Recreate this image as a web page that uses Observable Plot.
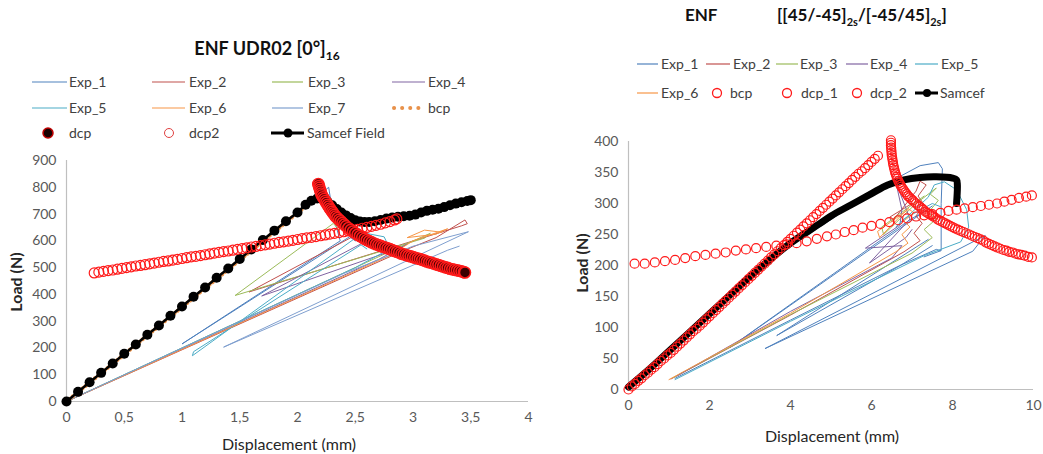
<!DOCTYPE html>
<html><head><meta charset="utf-8">
<script src="https://cdn.jsdelivr.net/npm/d3@7"></script>
<script src="https://cdn.jsdelivr.net/npm/@observablehq/plot@0.6"></script>
<style>
body{margin:0;background:#fff;}
#wrap{position:relative;width:1043px;height:454px;overflow:hidden;background:#fff;font-family:Lato,"Open Sans",sans-serif;}
#wrap svg{position:absolute;}
</style></head><body><div id="wrap"></div>
<script>
// ---------- tick labels ----------
const leftXTicks=[0,0.5,1,1.5,2,2.5,3,3.5,4];
const leftYTicks=[0,100,200,300,400,500,600,700,800,900];
const rightXTicks=[0,2,4,6,8,10];
const rightYTicks=[0,50,100,150,200,250,300,350,400];

// ---------- LEFT: ENF UDR02 [0°]16 ----------
const leftNames=["Exp_1","Exp_2","Exp_3","Exp_4","Exp_5","Exp_6","Exp_7","bcp","dcp","dcp2","Samcef Field"];
const leftExp1=[[[0,0],[2.27,800],[2.31,690],[2.37,600],[1.0,215],[2.45,615],[2.5,600]]];
const leftExp2=[[[0,0],[2.9,560],[3.2,612],[3.45,678],[3.47,664],[3.42,656],[1.58,409],[2.55,632],[2.6,615]]];
const leftExp3=[[[0,0],[2.6,520],[2.95,590],[3.15,628],[3.1,610],[1.46,396],[2.31,665],[2.36,640]]];
const leftExp4=[[[0,0],[2.7,530],[2.95,588],[2.9,575],[1.69,394],[2.6,600],[2.65,586]]];
const leftExp5=[[[0,0],[2.5,500],[2.8,570],[2.75,615],[2.45,640],[2.5,610],[1.09,171],[1.1,186],[2.55,585],[2.6,570]]];
const leftExp6=[[[0,0],[2.8,545],[3.0,600],[3.3,645],[3.2,625],[2.95,612],[3.1,640],[3.25,632]]];
const leftExp7=[[[0,0],[2.4,478],[3.0,580],[3.48,634],[1.36,203],[3.3,565],[3.4,580]]];
const leftBcp=[[0,0],[2.2,775]];
const leftSamcef=[[0,0],[0.1,36],[0.2,72],[0.3,107],[0.4,142],[0.5,178],[0.6,213],[0.7,249],[0.8,284],[0.9,320],[1.0,355],[1.1,391],[1.2,426],[1.3,462],[1.4,497],[1.5,532],[1.6,568],[1.7,603],[1.8,638],[1.9,673],[2.0,706],[2.07,735],[2.12,750],[2.17,758],[2.22,755],[2.26,746],[2.3,733],[2.34,719],[2.38,706],[2.42,695],[2.46,685],[2.5,677],[2.54,672],[2.58,670],[2.62,670],[2.67,673],[2.72,678],[2.77,683],[2.82,687],[2.87,690],[2.92,692],[2.97,694],[3.02,698],[3.07,706],[3.12,712],[3.17,716],[3.22,720],[3.27,726],[3.32,733],[3.37,739],[3.42,744],[3.47,749],[3.5,752]];
const leftDcp=[[2.18,812],[2.185,805],[2.19,798],[2.195,791],[2.2,784],[2.205,777],[2.21,770],[2.22,763],[2.23,756],[2.24,749],[2.25,742],[2.26,735],[2.27,728],[2.28,721],[2.29,715],[2.3,709],[2.31,703],[2.32,697],[2.33,691],[2.345,685],[2.36,679],[2.375,673],[2.39,667],[2.405,661],[2.42,655],[2.44,648],[2.46,641],[2.48,635],[2.5,629],[2.52,623],[2.54,618],[2.56,613],[2.58,608],[2.6,603],[2.62,599],[2.64,595],[2.66,591],[2.68,587],[2.7,584],[2.72,581],[2.74,578],[2.76,575],[2.78,572],[2.8,569],[2.82,566],[2.84,562],[2.86,559],[2.88,556],[2.9,552],[2.92,550],[2.94,547],[2.96,544],[2.98,542],[3.0,539],[3.02,537],[3.04,534],[3.06,532],[3.08,529],[3.1,526],[3.12,523],[3.14,520],[3.16,518],[3.18,515],[3.2,512],[3.22,510],[3.24,507],[3.26,504],[3.28,501],[3.3,499],[3.32,496],[3.34,494],[3.36,492],[3.38,490],[3.4,488],[3.42,486],[3.44,483],[3.45,482]];
const leftDcp2=[[0.24,480],[0.28,483],[0.32,486],[0.36,489],[0.4,491],[0.44,494],[0.48,497],[0.52,500],[0.56,503],[0.6,506],[0.64,508],[0.68,511],[0.72,514],[0.76,517],[0.8,520],[0.84,523],[0.88,525],[0.92,528],[0.96,531],[1.0,534],[1.04,537],[1.08,540],[1.12,542],[1.16,545],[1.2,548],[1.24,551],[1.28,554],[1.32,557],[1.36,560],[1.4,562],[1.44,565],[1.48,568],[1.52,571],[1.56,574],[1.6,577],[1.64,579],[1.68,582],[1.72,585],[1.76,588],[1.8,591],[1.84,594],[1.88,596],[1.92,599],[1.96,602],[2.0,605],[2.04,608],[2.08,611],[2.12,613],[2.16,616],[2.2,619],[2.24,622],[2.28,625],[2.32,628],[2.36,631],[2.4,634],[2.44,637],[2.48,640],[2.52,643],[2.56,647],[2.6,650],[2.64,654],[2.68,658],[2.72,662],[2.76,667],[2.8,672],[2.84,678],[2.86,682]];

// ---------- RIGHT: ENF [[45/-45]2s/[-45/45]2s] ----------
const rightNames=["Exp_1","Exp_2","Exp_3","Exp_4","Exp_5","Exp_6","bcp","dcp_1","dcp_2","Samcef"];
const rightExp1=[
 [[1.15,18],[4.0,112],[6.7,200],[7.6,226],[7.7,224]],
 [[4.3,244],[5.6,300],[6.6,340],[7.2,361],[7.65,366],[7.75,356],[7.72,300],[7.72,224],[7.3,214]],
 [[7.5,296],[2.51,68],[6.21,240],[7.0,276],[7.4,290]],
 [[8.8,248],[3.37,66],[8.5,223],[8.8,248]],
 [[7.4,242],[3.66,87],[6.71,200],[7.5,232]]];
const rightExp2=[[[1.05,17],[4,120],[6.8,222],[7.2,240],[7.05,252],[7.25,268],[7.1,280],[7.3,298],[7.15,312],[7.35,330],[7.2,336],[7.1,320],[6.5,270],[6.45,278],[7.0,300]]];
const rightExp3=[[[1.1,19],[4,121],[7.0,220],[7.5,245],[7.3,258],[7.6,275],[7.4,285],[7.65,305],[7.45,315],[7.6,325],[7.1,300],[6.3,250],[6.25,262],[7.3,312]]];
const rightExp4=[[[1.2,22],[4,126],[6.5,212],[6.75,232],[5.85,228],[6.7,265],[6.75,290],[6.6,335],[6.95,275],[5.95,204],[6.85,245],[7.0,258]]];
const rightExp5=[[[1.15,16],[4,110],[7.3,216],[8.2,238],[8.4,262],[8.35,290],[8.1,322],[7.8,335],[7.55,330],[7.4,310],[6.6,262],[6.8,275],[7.5,300],[7.7,295]]];
const rightExp6=[[[1.0,16],[4,123],[6.6,222],[6.9,236],[6.75,250],[6.95,262],[6.8,272],[7.05,285],[6.9,292],[6.2,245],[6.15,255],[6.9,290]]];
const rightBcp=[[0,0],[0.08,5],[0.16,9],[0.24,14],[0.32,18],[0.4,23],[0.48,27],[0.56,32],[0.64,36],[0.72,41],[0.8,46],[0.88,50],[0.96,55],[1.04,59],[1.12,64],[1.2,69],[1.28,74],[1.36,79],[1.44,84],[1.52,89],[1.6,94],[1.68,98],[1.76,103],[1.84,108],[1.92,113],[2.0,118],[2.08,123],[2.16,128],[2.24,133],[2.32,138],[2.4,143],[2.48,148],[2.56,153],[2.64,158],[2.72,163],[2.8,168],[2.88,173],[2.96,178],[3.04,183],[3.12,188],[3.2,193],[3.28,198],[3.36,203],[3.44,208],[3.52,213],[3.6,218],[3.68,223],[3.76,228],[3.84,233],[3.92,238],[4.0,243],[4.08,248],[4.16,253],[4.24,258],[4.32,263],[4.4,268],[4.48,273],[4.56,278],[4.64,283],[4.72,288],[4.8,293],[4.88,298],[4.96,303],[5.04,308],[5.12,313],[5.2,318],[5.28,323],[5.36,328],[5.44,333],[5.52,338],[5.6,343],[5.68,348],[5.76,352],[5.84,357],[5.92,362],[6.0,367],[6.08,372],[6.16,377]];
const rightDcp1=[[0.15,203],[0.4,203],[0.65,205],[0.9,207],[1.15,209],[1.4,212],[1.65,215],[1.9,217],[2.15,219],[2.4,221],[2.65,224],[2.9,226],[3.15,228],[3.4,230],[3.65,232],[3.9,234],[4.15,236],[4.4,239],[4.65,243],[4.9,247],[5.12,250],[5.34,254],[5.56,257],[5.78,261],[6.0,264],[6.22,267],[6.44,270],[6.66,273],[6.88,276],[7.1,279],[7.3,281],[7.5,283],[7.7,285],[7.9,288],[8.1,290],[8.3,292],[8.5,294],[8.7,296],[8.9,298],[9.1,300],[9.28,303],[9.46,306],[9.64,309],[9.82,311],[9.96,313]];
const rightDcp2=[[6.48,402],[6.48,398],[6.48,394],[6.485,390],[6.49,386],[6.495,382],[6.5,378],[6.51,374],[6.52,370],[6.53,366],[6.54,362],[6.555,358],[6.57,354],[6.585,350],[6.6,347],[6.62,343],[6.64,340],[6.665,336],[6.69,333],[6.715,330],[6.74,327],[6.77,324],[6.8,321],[6.835,318],[6.87,315],[6.9,312],[6.94,310],[6.98,307],[7.02,305],[7.06,302],[7.1,300],[7.15,297],[7.19,295],[7.24,292],[7.28,290],[7.33,287],[7.38,285],[7.43,283],[7.48,281],[7.53,279],[7.58,277],[7.64,274],[7.7,272],[7.76,270],[7.82,268],[7.88,266],[7.94,264],[8.0,262],[8.06,260],[8.13,258],[8.2,256],[8.27,254],[8.34,252],[8.41,250],[8.48,248],[8.55,246],[8.62,244],[8.69,242],[8.76,240],[8.83,237],[8.9,235],[8.97,233],[9.04,231],[9.11,229],[9.18,227],[9.26,225],[9.33,224],[9.4,222],[9.48,221],[9.56,219],[9.63,218],[9.7,217],[9.78,216],[9.87,214],[9.96,213]];
const rightSamcef=[[0,4],[0.5,32],[1,62],[1.5,92],[2,122],[2.5,152],[3,182],[3.5,210],[4,236],[4.5,258],[4.73,268],[5,280],[5.5,298],[6,316],[6.4,330],[6.8,338],[7.2,342],[7.6,343],[8,341],[8.1,338],[8.12,330],[8.1,300]];

// ---------- styles ----------
const expColors=["#4F81BD","#C0504D","#9BBB59","#8064A2","#4BACC6","#F79646","#7F9FCF"];
const RED="#FF1A1A";

function segRows(segs){const o=[];segs.forEach((s,i)=>s.forEach(p=>o.push({x:p[0],y:p[1],seg:i})));return o;}
function pts(a){return a.map(p=>({x:p[0],y:p[1]}));}
const axStyle={fontFamily:"Lato, 'Open Sans', sans-serif",fontSize:"14px",color:"#595959",background:"transparent",overflow:"visible"};

const leftExps=[leftExp1,leftExp2,leftExp3,leftExp4,leftExp5,leftExp6,leftExp7];
const leftPlot=Plot.plot({
  width:540,height:304,marginLeft:66,marginRight:12,marginTop:10,marginBottom:53,
  x:{domain:[0,4],ticks:leftXTicks,tickFormat:d=>String(d).replace(".",","),tickSize:0,tickPadding:11,label:null},
  y:{domain:[0,900],ticks:leftYTicks,tickSize:0,tickPadding:10,label:null},
  style:axStyle,
  marks:[
    Plot.ruleY([0],{stroke:"#bfbfbf",strokeWidth:1.2}),
    Plot.ruleX([0],{stroke:"#bfbfbf",strokeWidth:1.2}),
    ...leftExps.map((e,i)=>Plot.line(segRows(e),{x:"x",y:"y",z:"seg",stroke:expColors[i],strokeWidth:1})),
    Plot.line(pts(leftBcp),{x:"x",y:"y",stroke:"#E8914A",strokeWidth:4,strokeDasharray:"0.1 4",strokeLinecap:"round"}),
    Plot.line(pts(leftSamcef),{x:"x",y:"y",stroke:"#000",strokeWidth:2.5}),
    Plot.dot(pts(leftSamcef),{x:"x",y:"y",r:5,fill:"#000",stroke:"none"}),
    Plot.dot(pts(leftDcp2),{x:"x",y:"y",r:5,fill:"none",stroke:RED,strokeWidth:1.2}),
    Plot.dot(pts(leftDcp),{x:"x",y:"y",r:5.5,fill:"#3a0000",stroke:RED,strokeWidth:1.6})
  ]
});
leftPlot.style.left="0px";leftPlot.style.top="150px";

const rightExps=[rightExp1,rightExp2,rightExp3,rightExp4,rightExp5,rightExp6];
const rightPlot=Plot.plot({
  width:473,height:334,marginLeft:58,marginRight:10,marginTop:21,marginBottom:65,
  x:{domain:[0,10],ticks:rightXTicks,tickSize:0,tickPadding:11,label:null},
  y:{domain:[0,400],ticks:rightYTicks,tickSize:0,tickPadding:10,label:null},
  style:axStyle,
  marks:[
    Plot.ruleY([0],{stroke:"#bfbfbf",strokeWidth:1.2}),
    Plot.ruleX([0],{stroke:"#bfbfbf",strokeWidth:1.2}),
    ...rightExps.map((e,i)=>Plot.line(segRows(e),{x:"x",y:"y",z:"seg",stroke:expColors[i],strokeWidth:1})),
    Plot.line(pts(rightSamcef),{x:"x",y:"y",stroke:"#000",strokeWidth:7,strokeLinejoin:"round",strokeLinecap:"round",curve:"catmull-rom"}),
    Plot.dot(pts(rightBcp),{x:"x",y:"y",r:4.5,fill:"none",stroke:RED,strokeWidth:1.2}),
    Plot.dot(pts(rightDcp1),{x:"x",y:"y",r:4.5,fill:"none",stroke:RED,strokeWidth:1.2}),
    Plot.dot(pts(rightDcp2),{x:"x",y:"y",r:4.5,fill:"none",stroke:RED,strokeWidth:1.2})
  ]
});
rightPlot.style.left="570px";rightPlot.style.top="120px";

const wrap=document.getElementById("wrap");
wrap.appendChild(leftPlot);
wrap.appendChild(rightPlot);

// ---------- titles, legends, axis titles ----------
const ov=d3.select(wrap).append("svg").attr("width",1043).attr("height",454)
  .style("left","0px").style("top","0px").style("font-family","Lato, 'Open Sans', sans-serif");
const TXT="#404040";

const t1=ov.append("text").attr("x",267).attr("y",55).attr("text-anchor","middle")
  .attr("font-weight","bold").attr("font-size",18).attr("fill","#111");
t1.append("tspan").text("ENF UDR02 [0°]");
t1.append("tspan").attr("dy",5).attr("font-size",12).text("16");

ov.append("text").attr("x",685).attr("y",21).attr("font-weight","bold").attr("font-size",17).attr("fill","#111").text("ENF");
const t2=ov.append("text").attr("x",777).attr("y",21).attr("font-weight","bold").attr("font-size",17).attr("fill","#111");
t2.append("tspan").text("[[45/-45]");
t2.append("tspan").attr("dy",5).attr("font-size",11).text("2s");
t2.append("tspan").attr("dy",-5).text("/[-45/45]");
t2.append("tspan").attr("dy",5).attr("font-size",11).text("2s");
t2.append("tspan").attr("dy",-5).text("]");

function legText(x,y,s){ov.append("text").attr("x",x).attr("y",y+5).attr("font-size",14).attr("fill",TXT).text(s);}
function legLine(x1,x2,y,c,w){ov.append("line").attr("x1",x1).attr("x2",x2).attr("y1",y).attr("y2",y).attr("stroke",c).attr("stroke-width",w||1.2);}

const lcols=[[32,67,69],[152,185,189],[272,303,308],[392,425,428]];
const lrows=[82,108,133];
for(let i=0;i<7;i++){const r=Math.floor(i/4),c=i%4;legLine(lcols[c][0],lcols[c][1],lrows[r],expColors[i]);legText(lcols[c][2],lrows[r],leftNames[i]);}
ov.append("line").attr("x1",394).attr("x2",420).attr("y1",lrows[1]).attr("y2",lrows[1]).attr("stroke","#E8914A")
  .attr("stroke-width",4).attr("stroke-dasharray","0.1 8").attr("stroke-linecap","round");
legText(428,lrows[1],leftNames[7]);
ov.append("circle").attr("cx",48).attr("cy",lrows[2]).attr("r",5).attr("fill","#1a0000").attr("stroke","#c00000").attr("stroke-width",1.5);
legText(69,lrows[2],leftNames[8]);
ov.append("circle").attr("cx",169).attr("cy",lrows[2]).attr("r",4.5).attr("fill","none").attr("stroke","#e04040").attr("stroke-width",1);
legText(189,lrows[2],leftNames[9]);
legLine(271,304,lrows[2],"#000",3);
ov.append("circle").attr("cx",288).attr("cy",lrows[2]).attr("r",4.5).attr("fill","#000");
legText(307,lrows[2],leftNames[10]);

const rcols=[[637,658,661],[706,730,733],[776,798,800],[846,868,870],[915,938,941]];
const rrows=[64,93];
for(let i=0;i<6;i++){const r=Math.floor(i/5),c=i%5;legLine(rcols[c][0],rcols[c][1],rrows[r],expColors[i]);legText(rcols[c][2],rrows[r],rightNames[i]);}
[[717,730],[787,801],[857,870]].forEach((p,i)=>{
  ov.append("circle").attr("cx",p[0]).attr("cy",rrows[1]).attr("r",4.5).attr("fill","none").attr("stroke",RED).attr("stroke-width",1.3);
  legText(p[1],rrows[1],rightNames[6+i]);
});
legLine(915,938,rrows[1],"#000",3);
ov.append("circle").attr("cx",927).attr("cy",rrows[1]).attr("r",4).attr("fill","#000");
legText(940,rrows[1],rightNames[9]);

ov.append("text").attr("transform","translate(22,282) rotate(-90)").attr("text-anchor","middle").attr("font-weight","bold").attr("font-size",16).attr("fill","#262626").text("Load (N)");
ov.append("text").attr("x",289).attr("y",450).attr("text-anchor","middle").attr("font-size",16).attr("fill","#262626").text("Displacement (mm)");
ov.append("text").attr("transform","translate(588,263) rotate(-90)").attr("text-anchor","middle").attr("font-weight","bold").attr("font-size",16).attr("fill","#262626").text("Load (N)");
ov.append("text").attr("x",832).attr("y",442).attr("text-anchor","middle").attr("font-size",16).attr("fill","#262626").text("Displacement (mm)");
</script></body></html>
